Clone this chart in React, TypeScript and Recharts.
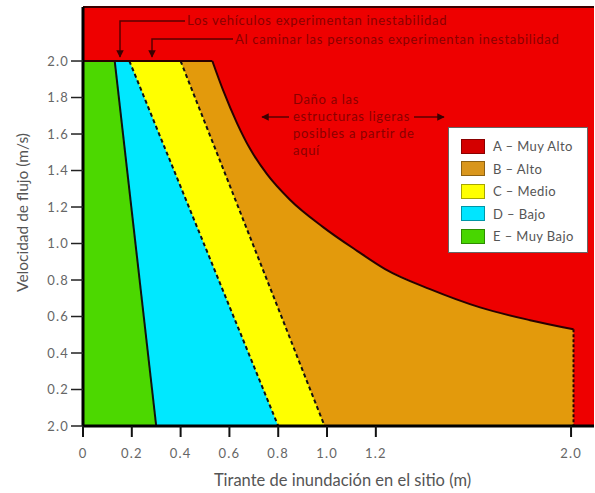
import { Area, ComposedChart, Legend, Line, ReferenceLine, XAxis, YAxis } from "recharts";

// zonas de riesgo (tirante x en m, velocidad v en m/s)
const zoneE = [
  { x: 0, v: 2.0 },
  { x: 0.13, v: 2.0 },
  { x: 0.3, v: 0 },
];
const zoneD = [
  { x: 0, v: 2.0 },
  { x: 0.19, v: 2.0 },
  { x: 0.8, v: 0 },
];
const zoneC = [
  { x: 0, v: 2.0 },
  { x: 0.4, v: 2.0 },
  { x: 0.99, v: 0 },
];
// zona B: tramo plano arriba + curva de daño a estructuras
const zoneBtop = [
  { x: 0, v: 2.0 },
  { x: 0.53, v: 2.0 },
];
const zoneBcurve = [
  { x: 0.53, v: 2.0 },
  { x: 0.574, v: 1.84 },
  { x: 0.631, v: 1.66 },
  { x: 0.684, v: 1.52 },
  { x: 0.754, v: 1.38 },
  { x: 0.848, v: 1.24 },
  { x: 0.984, v: 1.09 },
  { x: 1.123, v: 0.96 },
  { x: 1.238, v: 0.86 },
  { x: 1.422, v: 0.75 },
  { x: 1.627, v: 0.65 },
  { x: 1.832, v: 0.58 },
  { x: 2.01, v: 0.53 },
];
const zoneBright = [
  { x: 2.01, v: 0.53 },
  { x: 2.01, v: 0 },
];
const zoneB = [...zoneBtop, ...zoneBcurve.slice(1)];

// bordes entre zonas
const edgeED = zoneE.slice(1);
const edgeDC = zoneD.slice(1);
const edgeCB = zoneC.slice(1);

const xTicks = [0, 0.2, 0.4, 0.6, 0.8, 1.0, 1.2, 2.0];
const xTickLabels = ["0", "0.2", "0.4", "0.6", "0.8", "1.0", "1.2", "2.0"];
const yTicks = [0, 0.2, 0.4, 0.6, 0.8, 1.0, 1.2, 1.4, 1.6, 1.8, 2.0];
const yTickLabels = ["2.0", "0.2", "0.4", "0.6", "0.8", "1.0", "1.2", "1.4", "1.6", "1.8", "2.0"];

const legendNames = ["A – Muy Alto", "B – Alto", "C – Medio", "D – Bajo", "E – Muy Bajo"];
const legendColors = ["#d40000", "#d9961c", "#ffff00", "#00e5ff", "#48d600"];

const RED = "#ee0000";
const ORANGE = "#e39a0c";
const YELLOW = "#ffff00";
const CYAN = "#00e8ff";
const GREEN = "#4cd800";

const X_MAX = 2.094;
const Y_MAX = 2.296;
const FONT = "Lato, 'Open Sans', sans-serif";
const NOTE = "#8a0000";
const LEADER = "#5a0000";

function pickLabel(ticks: number[], labels: string[]) {
  return (val: number) => {
    const i = ticks.findIndex((t) => Math.abs(t - val) < 1e-6);
    return i >= 0 ? labels[i] : String(val);
  };
}

const LegendBox = () => (
  <div
    style={{
      width: 140,
      background: "#fff",
      border: "1px solid #666",
      padding: "7px 0 4px 0",
      boxSizing: "border-box",
      fontFamily: FONT,
    }}
  >
    {legendNames.map((name, i) => (
      <div key={name} style={{ display: "flex", alignItems: "center", height: 22.5 }}>
        <span
          style={{
            display: "inline-block",
            width: 24,
            height: 15,
            marginLeft: 12,
            background: legendColors[i],
            border: "1px solid rgba(0,0,0,0.35)",
            boxSizing: "border-box",
          }}
        />
        <span style={{ marginLeft: 8, fontSize: 13, letterSpacing: 0.4, color: "#555" }}>{name}</span>
      </div>
    ))}
  </div>
);

// anotaciones en rojo oscuro, encima del grafico
const Notes = () => (
  <svg
    width={595}
    height={493}
    style={{ position: "absolute", left: 0, top: 0, pointerEvents: "none" }}
  >
    <defs>
      <marker id="arr" viewBox="0 0 10 10" refX="9" refY="5" markerWidth="5" markerHeight="5" orient="auto">
        <path d="M0,0 L10,5 L0,10 z" fill="#3a0000" />
      </marker>
    </defs>
    <g fontFamily={FONT} fontSize={13} letterSpacing={0.7} fill={NOTE}>
      <polyline points="185,21 120,21 120,57" fill="none" stroke={LEADER} strokeWidth={1.5} markerEnd="url(#arr)" />
      <text x={187} y={25}>Los vehículos experimentan inestabilidad</text>
      <polyline points="233,39 152,39 152,57" fill="none" stroke={LEADER} strokeWidth={1.5} markerEnd="url(#arr)" />
      <text x={235} y={44}>Al caminar las personas experimentan inestabilidad</text>
      <line x1={289} y1={117} x2={262} y2={117} stroke={LEADER} strokeWidth={1.5} markerEnd="url(#arr)" />
      <line x1={414} y1={117} x2={444} y2={117} stroke={LEADER} strokeWidth={1.5} markerEnd="url(#arr)" />
      <text x={293} y={104}>Daño a las</text>
      <text x={293} y={121}>estructuras ligeras</text>
      <text x={293} y={138}>posibles a partir de</text>
      <text x={293} y={155}>aquí</text>
    </g>
  </svg>
);

export default function App() {
  return (
    <div style={{ position: "absolute", left: 0, top: 0, width: 595, height: 493, background: "#fff" }}>
      <ComposedChart width={595} height={493} margin={{ top: 7, right: 1, bottom: 0, left: 0 }}>
        <XAxis
          type="number"
          dataKey="x"
          domain={[0, X_MAX]}
          allowDataOverflow
          ticks={xTicks}
          interval={0}
          tickFormatter={pickLabel(xTicks, xTickLabels)}
          height={67}
          tickSize={11}
          tickMargin={12}
          axisLine={{ stroke: "#000", strokeWidth: 3 }}
          tickLine={{ stroke: "#111", strokeWidth: 2 }}
          tick={{ fill: "#666", fontSize: 13, letterSpacing: 1.2, fontFamily: FONT }}
          label={{ value: "Tirante de inundación en el sitio (m)", position: "center", dx: 4, dy: 21, fill: "#555", fontSize: 16.5, fontFamily: FONT }}
        />
        <YAxis
          type="number"
          dataKey="v"
          domain={[0, Y_MAX]}
          allowDataOverflow
          ticks={yTicks}
          interval={0}
          tickFormatter={pickLabel(yTicks, yTickLabels)}
          width={83}
          tickSize={12}
          tickMargin={2}
          axisLine={{ stroke: "#000", strokeWidth: 3 }}
          tickLine={{ stroke: "#222", strokeWidth: 1.5 }}
          tick={{ fill: "#666", fontSize: 13, letterSpacing: 1.2, fontFamily: FONT }}
          label={{ value: "Velocidad de flujo (m/s)", angle: -90, position: "center", dx: -19, dy: -4, fill: "#555", fontSize: 15.5, fontFamily: FONT }}
        />
        <Area data={[{ x: 0, v: Y_MAX }, { x: X_MAX, v: Y_MAX }]} dataKey="v" type="linear" fill={RED} fillOpacity={1} stroke="none" isAnimationActive={false} />
        <Area data={zoneB} dataKey="v" type="linear" fill={ORANGE} fillOpacity={1} stroke="none" isAnimationActive={false} />
        <Area data={zoneC} dataKey="v" type="linear" fill={YELLOW} fillOpacity={1} stroke="none" isAnimationActive={false} />
        <Area data={zoneD} dataKey="v" type="linear" fill={CYAN} fillOpacity={1} stroke="none" isAnimationActive={false} />
        <Area data={zoneE} dataKey="v" type="linear" fill={GREEN} fillOpacity={1} stroke="none" isAnimationActive={false} />
        <Line data={edgeED} dataKey="v" type="linear" stroke="#111" strokeWidth={2} dot={false} activeDot={false} isAnimationActive={false} />
        <Line data={edgeDC} dataKey="v" type="linear" stroke="#111" strokeWidth={2} strokeDasharray="4 3" dot={false} activeDot={false} isAnimationActive={false} />
        <Line data={edgeCB} dataKey="v" type="linear" stroke="#111" strokeWidth={2} strokeDasharray="4 3" dot={false} activeDot={false} isAnimationActive={false} />
        <Line data={zoneBtop} dataKey="v" type="linear" stroke="#2a0000" strokeWidth={2} dot={false} activeDot={false} isAnimationActive={false} />
        <Line data={zoneBcurve} dataKey="v" type="monotone" stroke="#2a0000" strokeWidth={2} dot={false} activeDot={false} isAnimationActive={false} />
        <Line data={zoneBright} dataKey="v" type="linear" stroke="#2a0000" strokeWidth={2} strokeDasharray="3 2" dot={false} activeDot={false} isAnimationActive={false} />
        <ReferenceLine y={Y_MAX} stroke="#3a0000" strokeWidth={2} />
        <Legend
          layout="vertical"
          align="center"
          verticalAlign="middle"
          content={() => <LegendBox />}
          wrapperStyle={{ left: 448, top: 127, width: 140 }}
        />
      </ComposedChart>
      <Notes />
    </div>
  );
}
